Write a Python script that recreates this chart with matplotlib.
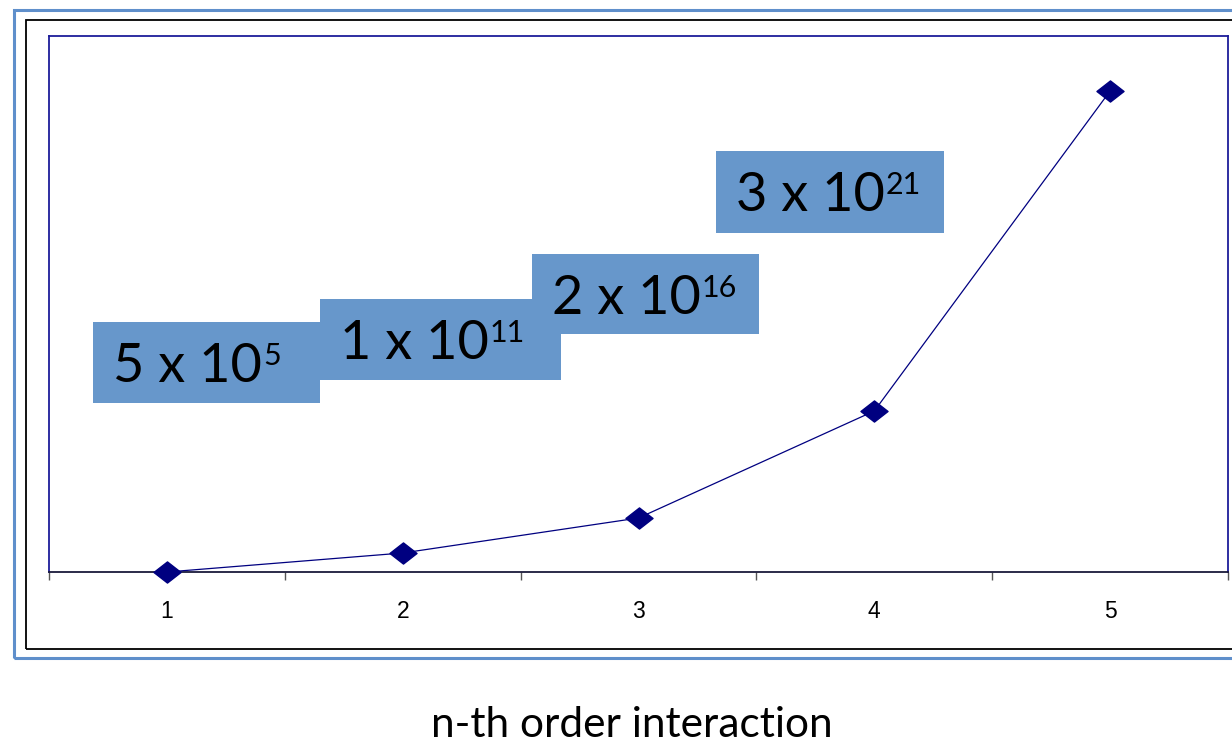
import matplotlib
matplotlib.use("Agg")
import matplotlib.pyplot as plt
from matplotlib.patches import Rectangle
from matplotlib.path import Path
from matplotlib.transforms import IdentityTransform

# ---- data ----
orders = [1, 2, 3, 4, 5]
values = [0, 19, 54, 161, 481]          # relative height (axis hidden)
y_max = 536
mantissas = ["5", "1", "2", "3"]
exponents = ["5", "11", "16", "21"]
x_label = "n-th order interaction"

W, H = 1232, 747
fig = plt.figure(figsize=(W / 100, H / 100), dpi=100)
px = IdentityTransform()

def Y(y):
    return H - y

# outer frames
fig.add_artist(Rectangle((14, Y(658)), 1300, 648, transform=px, fill=False,
                         edgecolor="#5f8fcb", linewidth=2.2))
fig.add_artist(Rectangle((26, Y(649)), 1300, 629, transform=px, fill=False,
                         edgecolor="black", linewidth=1.3))

# axes
ax = fig.add_axes([49 / W, (H - 572) / H, 1179 / W, 536 / H])
ax.set_xlim(0.5, 5.5)
ax.set_ylim(0, y_max)
for s in ["left", "top", "right"]:
    ax.spines[s].set_color("#1c1c9a")
    ax.spines[s].set_linewidth(1.3)
ax.spines["bottom"].set_color("#1a1a3a")
ax.spines["bottom"].set_linewidth(1.3)
ax.set_yticks([])
ax.set_xticks(orders)
ax.set_xticklabels([str(o) for o in orders], fontfamily="Liberation Sans", fontsize=16.5)
ax.tick_params(axis="x", which="major", length=0, pad=20)
ax.set_xticks([o - 0.5 for o in orders] + [orders[-1] + 0.5], minor=True)
ax.tick_params(axis="x", which="minor", length=6, width=1, color="#555555")

diamond = Path([(-1, 0), (0, 0.78), (1, 0), (0, -0.78), (-1, 0)],
               [Path.MOVETO, Path.LINETO, Path.LINETO, Path.LINETO, Path.CLOSEPOLY])
ax.plot(orders, values, color="#000080", linewidth=0.9, marker=diamond,
        markersize=19.5, markerfacecolor="#000080", markeredgecolor="#000080",
        clip_on=False, zorder=5)

# annotation boxes (pixel layout)
boxes = [(93, 322, 320, 403), (320, 299, 561, 380), (532, 254, 759, 334), (716, 151, 944, 233)]
box_color = "#6797cb"
FONT = "Lato"
main_fs = 39
sup_fs = 22
renderer = fig.canvas.get_renderer()
for (x0, y0, x1, y1), m, e in zip(boxes, mantissas, exponents):
    fig.add_artist(Rectangle((x0, Y(y1)), x1 - x0, y1 - y0, transform=px,
                             facecolor=box_color, edgecolor="none", zorder=3))
    base = y0 + 60
    t = fig.text(x0 + 20, Y(base), f"{m} x 10", transform=px, fontfamily=FONT,
                 fontsize=main_fs, ha="left", va="baseline", color="black", zorder=4)
    bb = t.get_window_extent(renderer)
    dy = 0.7165 * (main_fs - sup_fs) * 100 / 72
    fig.text(bb.x1 + 1, Y(base) + dy, e, transform=px, fontfamily=FONT,
             fontsize=sup_fs, ha="left", va="baseline", color="black", zorder=4)

fig.text(632, Y(737), x_label, transform=px, fontfamily=FONT, fontsize=30.5,
         ha="center", va="baseline", color="black")

fig.savefig("out.png", dpi=100)
